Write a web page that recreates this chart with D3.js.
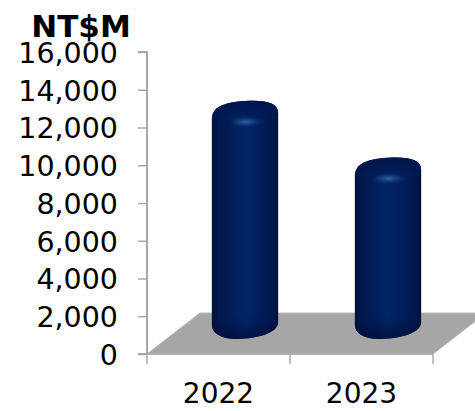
<!DOCTYPE html>
<html><head><meta charset="utf-8">
<script src="https://cdn.jsdelivr.net/npm/d3@7"></script>
<style>html,body{margin:0;background:#fff}svg{display:block}text{font-family:"DejaVu Sans",sans-serif;fill:#000}</style>
</head><body><svg id="c" width="475" height="411"></svg>
<script>
const categories = ["2022", "2023"];
const seriesValues = [12300, 9300];
const valueTicks = [0, 2000, 4000, 6000, 8000, 10000, 12000, 14000, 16000];
const unitLabel = "NT$M";

const svg = d3.select("#c");
const defs = svg.append("defs");
const y = d3.scaleLinear().domain([0, 16000]).range([354, 52]);
const x = d3.scaleBand().domain(categories).range([147, 433]);
const floorDepth = {dx: 53, dy: 41};
const baseLift = 21;   // the cylinders stand mid-way across the floor
const shiftX = 26.5;

// floor plane, running off the right edge
const [fl, fr] = x.range();
svg.append("path")
  .attr("d", `M${fl},${y(0)}L${fr},${y(0)}L${fr + floorDepth.dx},${y(0) - floorDepth.dy}L${fl + floorDepth.dx},${y(0) - floorDepth.dy}Z`)
  .attr("fill", "#a6a6a6").attr("stroke", "#b8b8b8").attr("stroke-width", 1);

// value axis
const axisY = d3.axisLeft(y).tickValues(valueTicks).tickSize(9).tickPadding(20).tickFormat(d3.format(","));
const gy = svg.append("g").attr("transform", "translate(147,0)").call(axisY);
gy.selectAll("path,line").attr("stroke", "#a8a8a8").attr("stroke-width", 1.5);
gy.select("path").attr("stroke-width", 2).attr("d", `M-9,${y(16000)}H0V${y(0)}H-9`);
gy.selectAll("text").attr("font-size", 28.5).attr("fill", "#000").style("font-family", '"DejaVu Sans"').attr("dy", "0.36em");

// category axis
const gx = svg.append("g").attr("transform", `translate(0,${y(0)})`);
gx.append("path").attr("d", `M${fl},0H${fr}`).attr("stroke", "#a8a8a8").attr("stroke-width", 1.5).attr("fill", "none");
[fl, fl + x.bandwidth(), fr].forEach(t => gx.append("line").attr("x1", t).attr("x2", t).attr("y1", 0).attr("y2", 10).attr("stroke", "#a8a8a8").attr("stroke-width", 1.5));
gx.selectAll("text").data(categories).join("text")
  .attr("x", d => x(d) + x.bandwidth() / 2)
  .attr("y", 48.5).attr("text-anchor", "middle").attr("font-size", 28).text(d => d);

svg.append("text").attr("x", 81).attr("y", 36.5).attr("text-anchor", "middle")
  .attr("font-size", 31).attr("font-weight", "bold").text(unitLabel);

// cylinder shading
const side = defs.append("linearGradient").attr("id", "side");
[[0, "#000f38"], [0.1, "#00184e"], [0.32, "#001e5a"], [0.5, "#022668"], [0.7, "#001e5a"], [0.92, "#00184c"], [1, "#000e36"]]
  .forEach(([o, c]) => side.append("stop").attr("offset", o).attr("stop-color", c));
const capShade = defs.append("linearGradient").attr("id", "cap").attr("x1", 0).attr("x2", 0).attr("y1", 0).attr("y2", 1);
[[0, "#00154a", 1], [0.5, "#001850", 0.9], [1, "#001e5c", 0]]
  .forEach(([o, c, a]) => capShade.append("stop").attr("offset", o).attr("stop-color", c).attr("stop-opacity", a));
const glow = defs.append("radialGradient").attr("id", "glow");
[[0, "#33609f", 1], [0.45, "#1c4688", 0.7], [1, "#02266a", 0]]
  .forEach(([o, c, a]) => glow.append("stop").attr("offset", o).attr("stop-color", c).attr("stop-opacity", a));
const footShade = defs.append("linearGradient").attr("id", "foot").attr("x1", 0).attr("x2", 0).attr("y1", 0).attr("y2", 1);
[[0, "#00123f", 0], [1, "#000e38", 0.9]]
  .forEach(([o, c, a]) => footShade.append("stop").attr("offset", o).attr("stop-color", c).attr("stop-opacity", a));
defs.append("filter").attr("id", "soft").append("feGaussianBlur").attr("stdDeviation", 0.5);

const barW = 66.5;
const bars = svg.selectAll("g.bar").data(categories.map((c, i) => ({c, v: seriesValues[i], i}))).join("g").attr("class", "bar");
bars.each(function (d) {
  const g = d3.select(this);
  const l = x(d.c) + x.bandwidth() / 2 - barW / 2 + shiftX;
  const r = l + barW;
  const topY = y(d.v) - baseLift;            // crown of the rounded top
  const botY = y(0) - 15;                    // lowest point of the foot
  const outline = `M${l},${topY + 19}
    C${l},${topY + 6} ${l + 12},${topY + 1} ${l + 38},${topY}
    C${l + 57},${topY - 0.5} ${r},${topY + 3} ${r},${topY + 13}
    L${r},${botY - 17}
    C${r},${botY - 6} ${l + 46},${botY - 0.5} ${l + 25},${botY}
    C${l + 9},${botY} ${l},${botY - 6} ${l},${botY - 14}Z`;
  const id = "clip" + d.i;
  defs.append("clipPath").attr("id", id).append("path").attr("d", outline);
  g.append("path").attr("d", outline).attr("fill", "#5a6a8a").attr("opacity", 0.55).attr("filter", "url(#soft)");
  const inner = g.append("g").attr("clip-path", `url(#${id})`);
  inner.append("rect").attr("x", l).attr("y", topY - 2).attr("width", barW).attr("height", botY - topY + 4).attr("fill", "url(#side)");
  inner.append("rect").attr("x", l).attr("y", topY - 2).attr("width", barW).attr("height", 24).attr("fill", "url(#cap)");
  inner.append("ellipse").attr("cx", l + 34).attr("cy", topY + 21).attr("rx", 19).attr("ry", 6).attr("fill", "url(#glow)");
  inner.append("rect").attr("x", l).attr("y", botY - 22).attr("width", barW).attr("height", 24).attr("fill", "url(#foot)");
});
</script></body></html>
